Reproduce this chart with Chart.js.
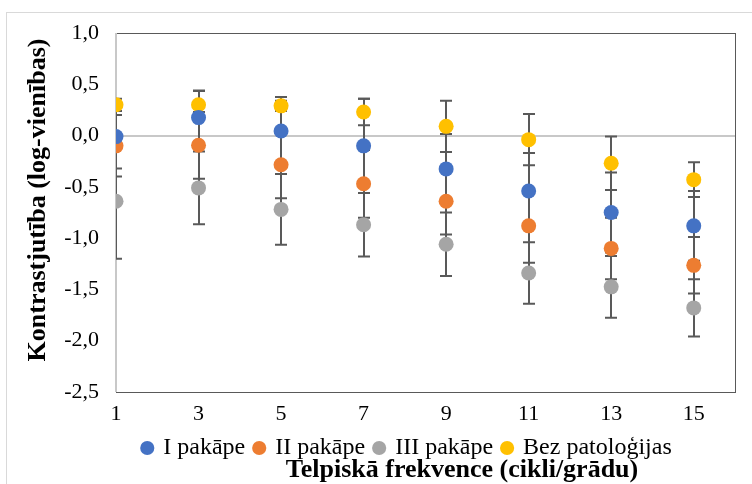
<!DOCTYPE html>
<html>
<head>
<meta charset="utf-8">
<script src="https://cdn.jsdelivr.net/npm/chart.js@4"></script>
<style>
  html, body { margin: 0; padding: 0; background: #fff; }
  #wrap { width: 752px; height: 484px; position: relative; }
</style>
</head>
<body>
<div id="wrap"><canvas id="chart"></canvas></div>
<script>
/* ── data ─────────────────────────────────────────────── */
const X_VALUES = [1, 3, 5, 7, 9, 11, 13, 15];
const X_TICKS  = [1, 3, 5, 7, 9, 11, 13, 15];

const STAGE1      = [-0.01, 0.175, 0.045, -0.10, -0.325, -0.54, -0.75, -0.88];
const STAGE1_ERR  = [0.31, 0.26, 0.33, 0.46, 0.34, 0.37, 0.39, 0.34];
const STAGE2      = [-0.10, -0.095, -0.285, -0.47, -0.64, -0.88, -1.10, -1.265];
const STAGE2_ERR  = [0.30, 0.325, 0.325, 0.33, 0.325, 0.36, 0.30, 0.275];
const STAGE3      = [-0.64, -0.51, -0.72, -0.87, -1.06, -1.34, -1.475, -1.68];
const STAGE3_ERR  = [0.56, 0.355, 0.345, 0.31, 0.31, 0.30, 0.30, 0.28];
const HEALTHY     = [0.30, 0.30, 0.29, 0.23, 0.09, -0.04, -0.27, -0.43];
const HEALTHY_ERR = [0.06, 0.14, 0.05, 0.13, 0.25, 0.25, 0.26, 0.17];

const LABELS  = ['I pakāpe', 'II pakāpe', 'III pakāpe', 'Bez patoloģijas'];
const COLORS  = ['#4472c4', '#ed7d31', '#a5a5a5', '#ffc000'];
const X_TITLE = 'Telpiskā frekvence (cikli/grādu)';
const Y_TITLE = 'Kontrastjutība (log-vienības)';

const FONT = '"Liberation Serif", "Times New Roman", serif';

/* ── helpers ──────────────────────────────────────────── */
function series(label, values, errs, color) {
  return {
    label,
    data: X_VALUES.map((x, i) => ({ x, y: values[i] })),
    errors: errs,
    backgroundColor: color,
    borderColor: color,
    pointRadius: 7.5,
    pointHoverRadius: 7.5,
    pointBorderWidth: 0,
    borderWidth: 0,
  };
}

// outer border, plot frame, zero lines and error bars under the markers
const errorBars = {
  id: 'errorBars',
  afterLayout(chart) {
    // legend sits a bit left of the plot centre in the original
    const lg = chart.legend;
    if (lg) { lg.left -= 18; lg.right -= 18; }
  },
  beforeDraw(chart) {
    const ctx = chart.ctx;
    ctx.save();
    ctx.strokeStyle = '#d9d9d9';
    ctx.lineWidth = 1;
    ctx.strokeRect(6.5, 12.5, 800, 500);
    ctx.restore();
  },
  beforeDatasetsDraw(chart) {
    const { ctx, chartArea: a, scales: { x, y } } = chart;
    ctx.save();
    ctx.strokeStyle = '#595959';
    ctx.lineWidth = 1;
    ctx.strokeRect(Math.round(a.left) + 0.5, Math.round(a.top) + 0.5,
                   Math.round(a.right - a.left), Math.round(a.bottom - a.top));

    ctx.strokeStyle = '#c8c8c8';
    ctx.lineWidth = 2;
    const y0 = Math.round(y.getPixelForValue(0));
    ctx.beginPath(); ctx.moveTo(a.left, y0); ctx.lineTo(a.right, y0); ctx.stroke();
    const x1 = Math.round(x.getPixelForValue(1));
    ctx.beginPath(); ctx.moveTo(x1, a.top); ctx.lineTo(x1, a.bottom); ctx.stroke();

    ctx.beginPath();
    ctx.rect(a.left, a.top - 2, a.right - a.left, a.bottom - a.top + 4);
    ctx.clip();
    ctx.strokeStyle = '#595959';
    ctx.lineWidth = 2;
    chart.data.datasets.forEach(ds => {
      ds.data.forEach((p, i) => {
        const e = ds.errors[i];
        const px = Math.round(x.getPixelForValue(p.x));
        const top = y.getPixelForValue(p.y + e);
        const bot = y.getPixelForValue(p.y - e);
        ctx.beginPath();
        ctx.moveTo(px, top); ctx.lineTo(px, bot);
        ctx.moveTo(px - 6, top); ctx.lineTo(px + 6, top);
        ctx.moveTo(px - 6, bot); ctx.lineTo(px + 6, bot);
        ctx.stroke();
      });
    });
    ctx.restore();
  },
  afterDraw(chart) {
    const ctx = chart.ctx;
    ctx.save();
    ctx.fillStyle = '#000';
    ctx.font = 'bold 26px ' + FONT;
    ctx.textAlign = 'center';
    ctx.textBaseline = 'middle';
    ctx.fillText(X_TITLE, 462, 470);
    ctx.translate(38, 200);
    ctx.rotate(-Math.PI / 2);
    ctx.font = 'bold 26px ' + FONT;
    ctx.fillText(Y_TITLE, 0, 0);
    ctx.restore();
  },
};

const fmt = v => v.toFixed(1).replace('.', ',');

new Chart(document.getElementById('chart'), {
  type: 'scatter',
  data: {
    datasets: [
      series(LABELS[0], STAGE1, STAGE1_ERR, COLORS[0]),
      series(LABELS[1], STAGE2, STAGE2_ERR, COLORS[1]),
      series(LABELS[2], STAGE3, STAGE3_ERR, COLORS[2]),
      series(LABELS[3], HEALTHY, HEALTHY_ERR, COLORS[3]),
    ],
  },
  options: {
    responsive: true,
    maintainAspectRatio: false,
    animation: false,
    devicePixelRatio: 1,
    layout: { padding: { left: 0, right: 17, top: 33, bottom: 14 } },
    plugins: {
      tooltip: { enabled: false },
      legend: {
        position: 'bottom',
        fullSize: false,
        labels: {
          usePointStyle: true,
          pointStyle: 'circle',
          boxWidth: 8,
          boxHeight: 10,
          padding: 10,
          color: '#000',
          font: { family: FONT, size: 24 },
        },
      },
    },
    scales: {
      x: {
        type: 'linear',
        min: 1,
        max: 16,
        afterBuildTicks: s => { s.ticks = X_TICKS.map(v => ({ value: v })); },
        afterFit: s => { s.height = 34; },
        grid: { display: false, drawTicks: false },
        border: { display: false },
        ticks: { padding: 9, color: '#000', font: { family: FONT, size: 22 } },
      },
      y: {
        min: -2.5,
        max: 1.0,
        afterFit: s => { s.width = 116; },
        grid: { display: false, drawTicks: false },
        border: { display: false },
        ticks: {
          stepSize: 0.5,
          padding: 17,
          color: '#000',
          font: { family: FONT, size: 22 },
          callback: v => fmt(v),
        },
      },
    },
  },
  plugins: [errorBars],
});
</script>
</body>
</html>
